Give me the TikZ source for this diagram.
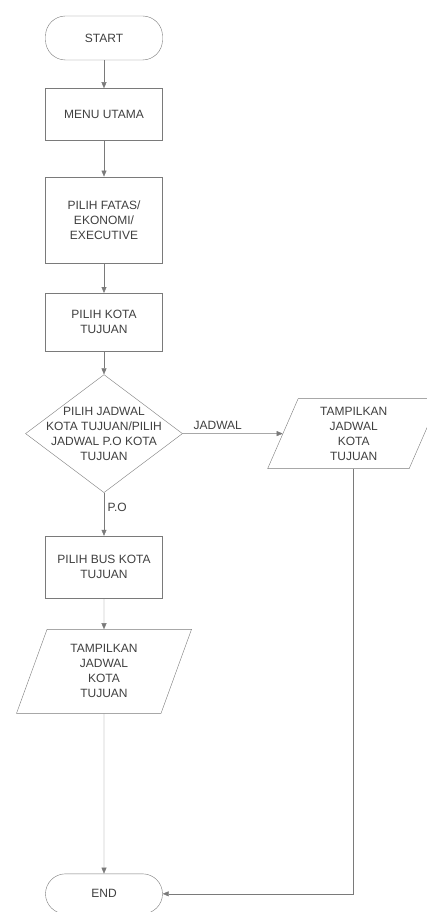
\documentclass[tikz,border=0pt]{standalone}
\usepackage{fontspec}
\setmainfont{Liberation Sans}
\usetikzlibrary{arrows.meta,positioning,shapes.geometric}
\definecolor{cLine}{HTML}{7A7A7A}
\definecolor{cText}{HTML}{3F3F3F}
\tikzset{
  base/.style={draw=cLine, thin, text=cText, font=\fontsize{12}{15}\selectfont, align=center},
  term/.style={base, rounded corners=20pt, minimum width=117pt, minimum height=44pt},
  proc/.style={base, rectangle, minimum width=117pt},
  decide/.style={base, diamond, minimum width=157pt, minimum height=118pt,
                 inner xsep=-20pt, inner ysep=-10pt},
  io/.style={base, trapezium, trapezium left angle=62, trapezium right angle=118,
             trapezium stretches body, inner sep=2pt},
  arr/.style={-{Triangle[length=6pt,width=5pt]}, thin, cLine},
  lbl/.style={font=\fontsize{12}{15}\selectfont, text=cText}
}

\begin{document}
\begin{tikzpicture}[x=1pt, y=-1pt]
\useasboundingbox (0,0) rectangle (426,912);
% main column
\node[term] (start) at (104,38) {START};
\node[proc, minimum height=52pt, below=28pt of start] (menu) {MENU UTAMA};
\node[proc, minimum height=86pt, below=36pt of menu] (kelas) {PILIH FATAS/\\EKONOMI/\\EXECUTIVE};
\node[proc, minimum height=58pt, below=30pt of kelas] (kota) {PILIH KOTA\\TUJUAN};
\node[decide, below=23pt of kota] (pilih) {PILIH JADWAL\\KOTA TUJUAN/PILIH\\JADWAL P.O KOTA\\TUJUAN};
\node[proc, minimum height=62pt, below=43pt of pilih] (bus) {PILIH BUS KOTA\\TUJUAN};
\node[io, minimum width=175pt, minimum height=84pt, below=31pt of bus] (tampilpo) {TAMPILKAN\\JADWAL\\KOTA\\TUJUAN};
\node[term, minimum height=40pt, below=160pt of tampilpo] (end) {END};
% jadwal branch
\node[io, minimum width=172pt, minimum height=70pt, right=100pt of pilih] (tampiljd) {TAMPILKAN\\JADWAL\\KOTA\\TUJUAN};
\draw[arr] (start) -- (menu);
\draw[arr] (menu) -- (kelas);
\draw[arr] (kelas) -- (kota);
\draw[arr] (kota) -- (pilih);
\draw[arr] (pilih) -- node[lbl, above, pos=0.35]{JADWAL} (tampiljd);
\draw[arr] (pilih) -- node[lbl, right, pos=0.35]{P.O} (bus);
\draw[arr] (bus) -- (tampilpo);
\draw[arr] (tampilpo) -- (end);
\draw[arr] (tampiljd.south) |- (end.east);
\end{tikzpicture}
\end{document}
